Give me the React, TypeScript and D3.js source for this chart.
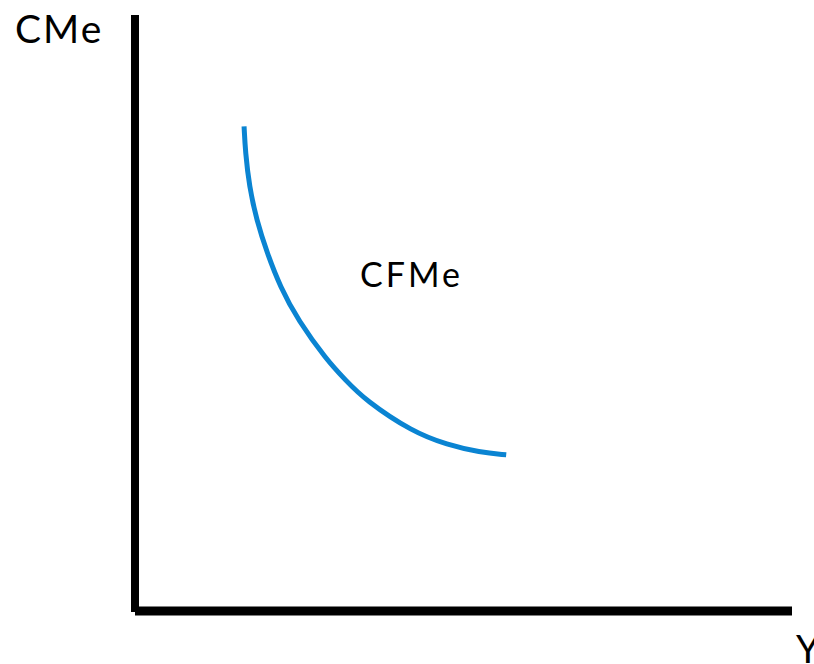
import { useEffect, useRef } from "react";
import * as d3 from "d3";

// Average fixed cost curve (CFMe) in 0–100 units
const curveX = [16.6, 16.8, 17.4, 18.5, 20.1, 22.1, 24.8, 29.2, 32.0, 35.0, 42.3, 47.5, 52.5, 56.5];
const curveY = [81.3, 77.0, 71.2, 65.6, 60.1, 54.4, 48.8, 42.1, 38.8, 35.4, 30.0, 27.9, 26.6, 26.2];

const yAxisLabel = "CMe";
const xAxisLabel = "Y";
const curveLabel = "CFMe";

export default function App() {
  const svgRef = useRef<SVGSVGElement>(null);

  useEffect(() => {
    document.body.style.margin = "0";
    const width = 814;
    const height = 664;

    const svg = d3.select(svgRef.current);
    svg.selectAll("*").remove();
    svg.attr("width", width).attr("height", height);

    const x = d3.scaleLinear().domain([0, 100]).range([135, 792]);
    const y = d3.scaleLinear().domain([0, 100]).range([611, 15]);

    const font = "Lato, 'DejaVu Sans', sans-serif";

    // Axes
    svg
      .append("line")
      .attr("x1", x(0))
      .attr("x2", x(0))
      .attr("y1", y(100))
      .attr("y2", y(0) + 1)
      .attr("stroke", "#000")
      .attr("stroke-width", 8);

    svg
      .append("line")
      .attr("x1", x(0))
      .attr("x2", x(100))
      .attr("y1", y(0))
      .attr("y2", y(0))
      .attr("stroke", "#000")
      .attr("stroke-width", 9);

    // Curve
    const pts = curveX.map((d, i) => [d, curveY[i]] as [number, number]);
    const line = d3
      .line<[number, number]>()
      .x((d) => x(d[0]))
      .y((d) => y(d[1]))
      .curve(d3.curveBasis);

    svg
      .append("path")
      .datum(pts)
      .attr("fill", "none")
      .attr("stroke", "#0a84d2")
      .attr("stroke-width", 5)
      .attr("d", line);

    // Labels
    svg
      .append("text")
      .attr("x", 15)
      .attr("y", 43)
      .attr("font-family", font)
      .attr("font-size", 39)
      .attr("letter-spacing", 2)
      .text(yAxisLabel);

    svg
      .append("text")
      .attr("x", 360)
      .attr("y", 287)
      .attr("font-family", font)
      .attr("font-size", 34)
      .attr("letter-spacing", 3)
      .text(curveLabel);

    svg
      .append("text")
      .attr("x", 796)
      .attr("y", 663)
      .attr("font-family", font)
      .attr("font-size", 38)
      .text(xAxisLabel);
  }, []);

  return <svg ref={svgRef}></svg>;
}
